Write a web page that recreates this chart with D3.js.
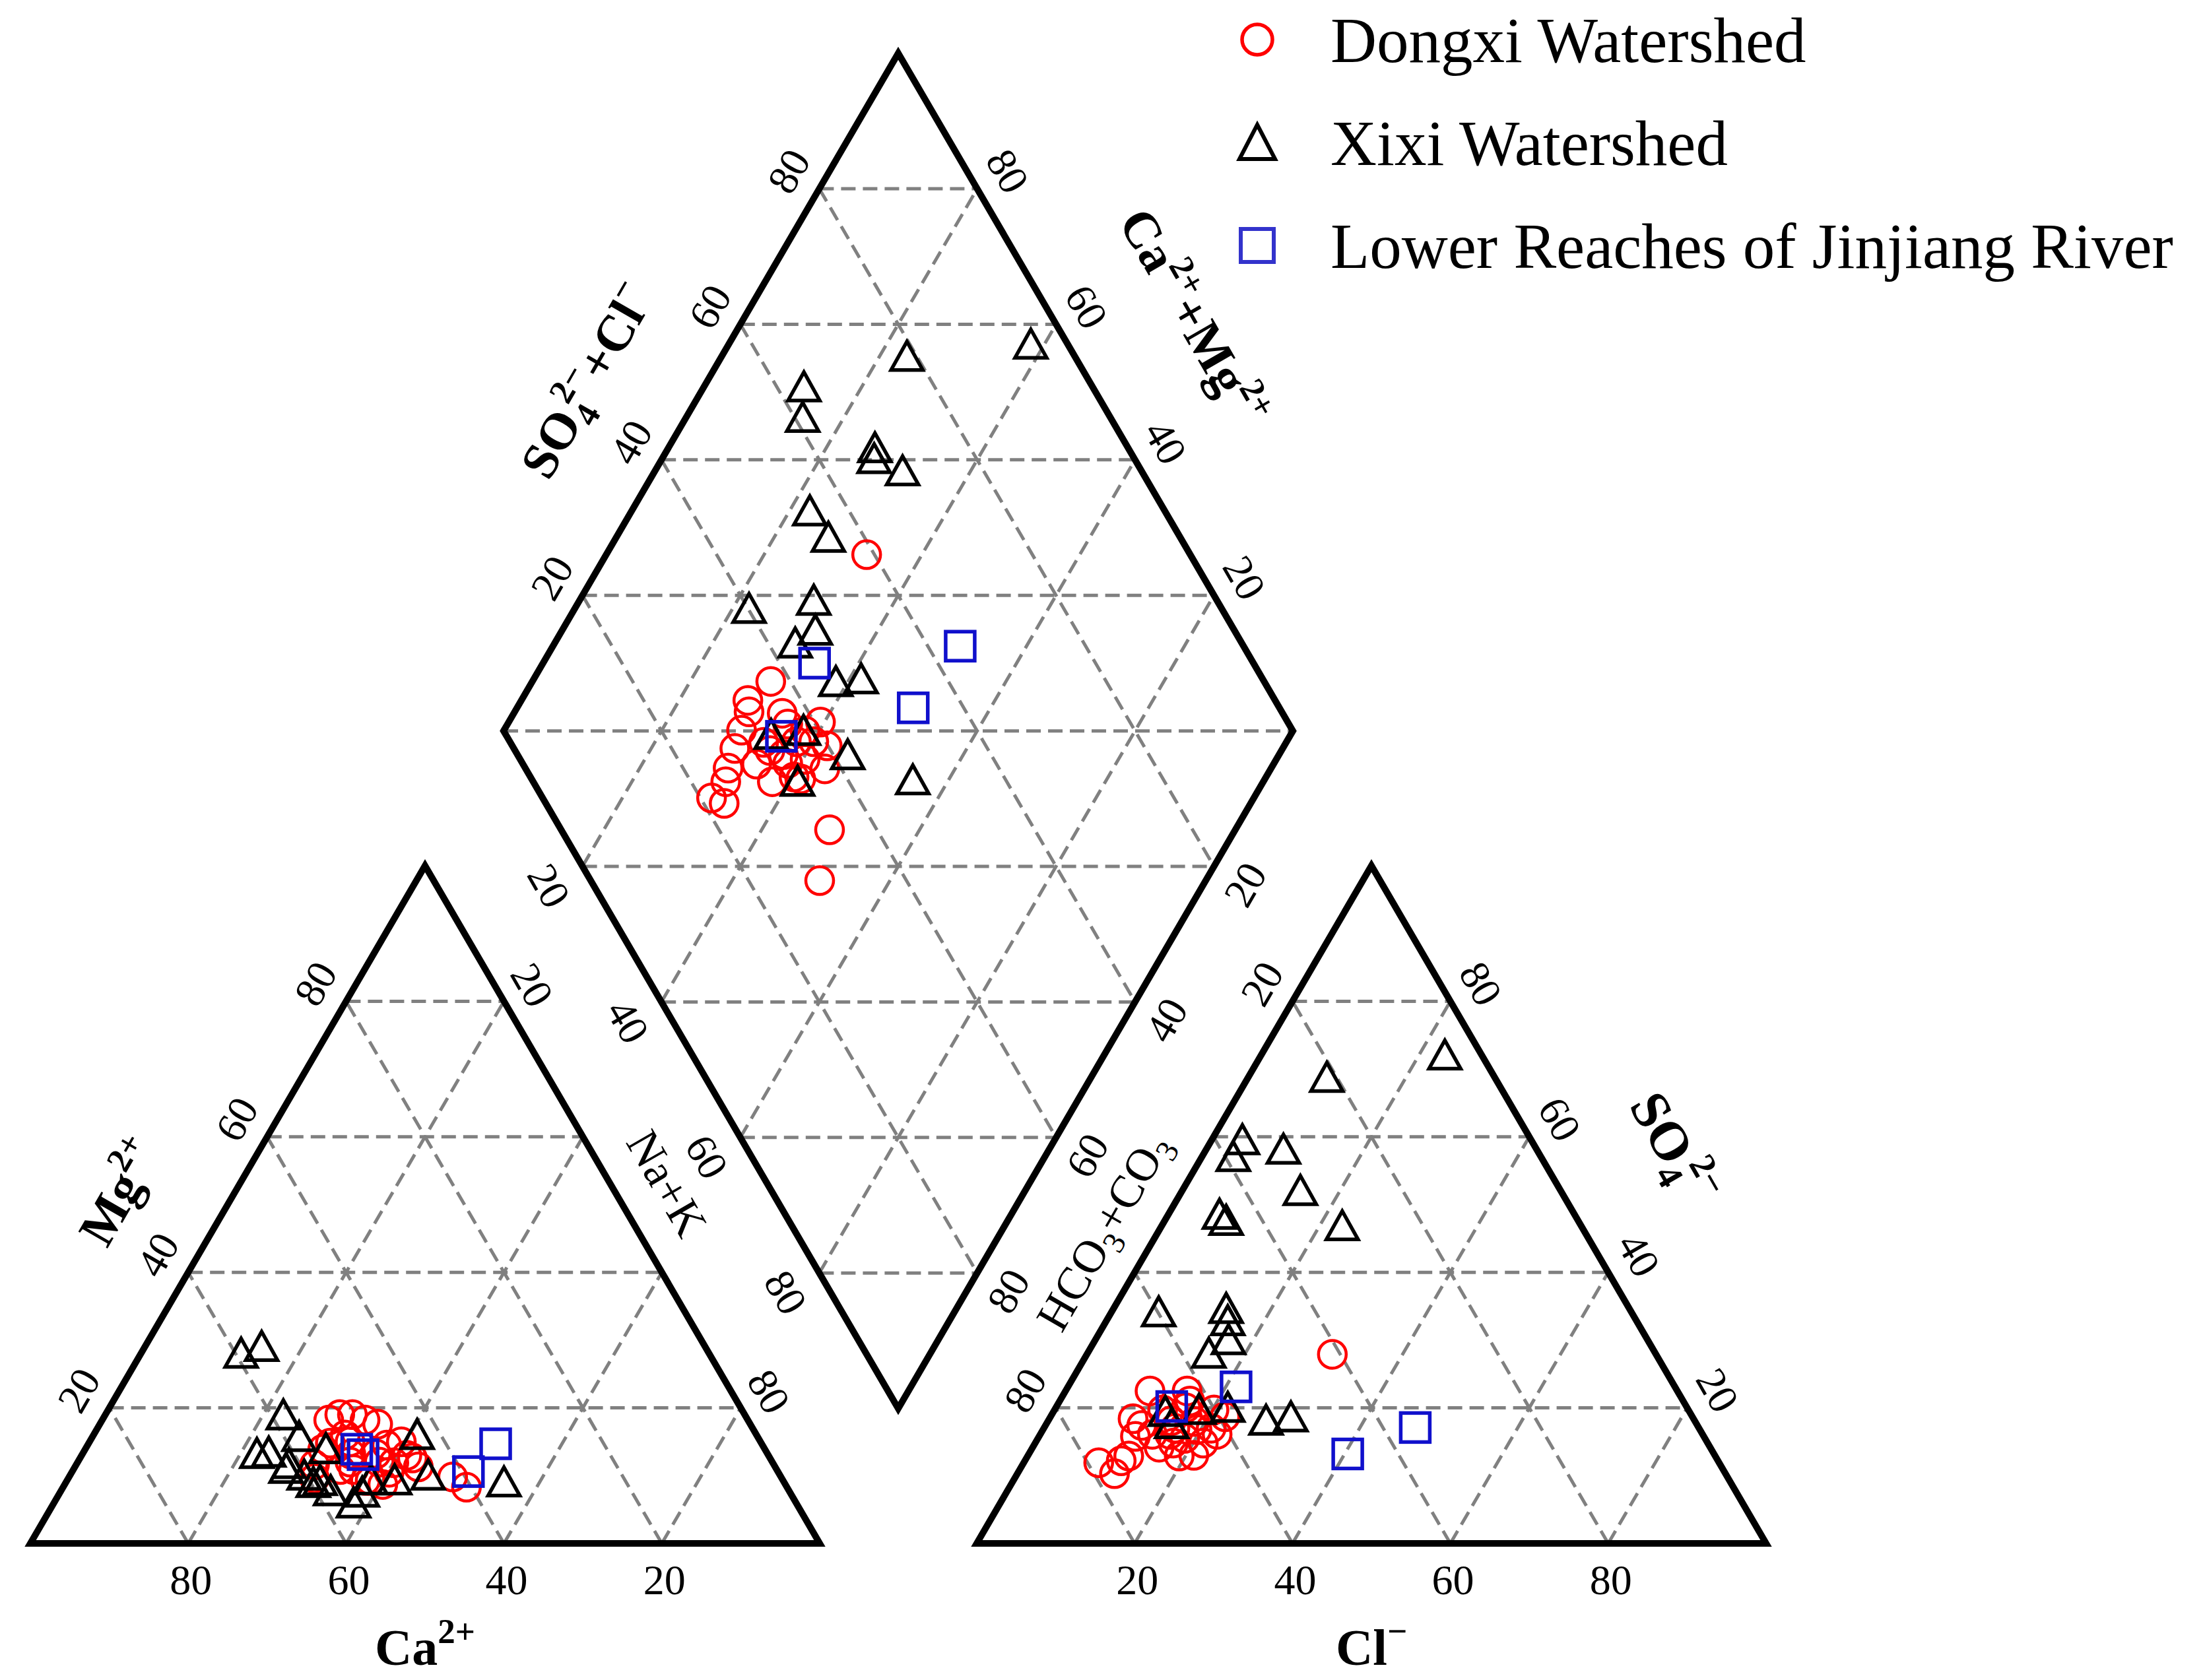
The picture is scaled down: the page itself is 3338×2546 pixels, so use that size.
<!DOCTYPE html>
<html>
<head>
<meta charset="utf-8">
<script src="https://cdn.jsdelivr.net/npm/d3@7"></script>
<style>
  html, body { margin: 0; background: #fff; }
</style>
</head>
<body>
<svg id="chart" width="3338" height="2546"></svg>
<script>
// Piper diagram: % meq/L of cations (Mg, Na+K; Ca = rest) and anions (SO4, Cl; HCO3+CO3 = rest)

// Dongxi Watershed (red circles)
const dongxiMg  = [11.6, 18.2, 19.0, 13.2, 15.0, 13.9, 10.9, 12.0, 14.8, 17.6, 14.5, 11.9, 12.6, 9.6, 12.0,
                   9.3, 8.7, 11.3, 16.0, 9.3, 10.5, 19.0, 18.2, 13.2, 10.9, 13.0, 9.8, 8.3, 15.0];
const dongxiNaK = [30.2, 28.7, 29.7, 34.0, 39.5, 30.1, 35.5, 38.2, 30.6, 35.2, 37.9, 40.1, 42.1, 31.2, 34.5,
                   38.4, 40.3, 43.5, 31.9, 37.8, 40.2, 31.3, 33.3, 37.2, 33.8, 41.2, 48.6, 51.1, 33.0];
const dongxiSO4 = [21.0, 22.5, 16.1, 18.0, 18.7, 14.2, 20.0, 17.0, 15.8, 14.8, 16.8, 16.1, 19.7, 12.9, 17.4,
                   17.0, 14.8, 22.5, 12.2, 16.1, 19.7, 11.9, 10.3, 18.1, 12.9, 15.5, 13.0, 18.4, 27.9];
const dongxiCl  = [16.5, 10.7, 16.4, 18.6, 22.1, 16.0, 16.5, 21.2, 12.2, 17.5, 19.5, 22.4, 20.2, 12.8, 12.2,
                   16.6, 21.3, 15.4, 12.2, 14.2, 13.7, 9.5, 12.3, 15.6, 19.2, 18.6, 21.0, 10.6, 31.1];

// Xixi Watershed (black triangles)
const xixiMg  = [7.5, 13.4, 28.0, 29.0, 15.7, 11.7, 8.9, 18.9, 11.0, 10.0, 13.2, 9.2, 13.9, 9.3, 9.3,
                 7.7, 5.9, 10.0, 16.0, 9.0];
const xixiNaK = [38.3, 23.5, 12.7, 14.8, 26.2, 26.9, 31.4, 22.6, 26.9, 29.7, 22.1, 32.1, 30.5, 38.5, 41.5,
                 34.2, 38.0, 45.4, 41.0, 55.5];
const xixiSO4 = [72.0, 68.7, 59.5, 57.0, 58.1, 52.0, 46.8, 48.5, 47.6, 34.6, 34.1, 30.0, 28.0, 18.1, 18.6,
                 19.4, 19.7, 20.0, 17.6, 32.8];
const xixiCl  = [23.3, 10.0, 3.9, 4.0, 9.8, 15.0, 22.9, 6.5, 7.8, 14.3, 6.0, 16.9, 15.4, 27.6, 30.5,
                 14.2, 18.3, 21.8, 15.9, 15.4];

// Lower Reaches of Jinjiang River (blue squares)
const lowerMg  = [13.9, 14.7, 10.6, 13.1];
const lowerNaK = [34.4, 51.6, 50.2, 35.6];
const lowerSO4 = [23.1, 17.1, 13.2, 20.2];
const lowerCl  = [21.3, 47.0, 40.4, 14.6];

const tickVals = [20, 40, 60, 80];
const legendNames = ['Dongxi Watershed', 'Xixi Watershed', 'Lower Reaches of Jinjiang River'];

// ---- layout ----
const side   = 1196;   // triangle side (px)
const hgt    = 1027;   // triangle height (px)
const baseY  = 2339;
const catX0  = 46;     // cation triangle, Ca corner
const anX0   = 1480;   // anion triangle, HCO3 corner
const gap    = anX0 - (catX0 + side);
const dmX0   = catX0 + side + gap / 2 - side / 2;
const dmBot  = baseY - hgt * gap / side;

const serif = '"Liberation Serif", "Times New Roman", serif';
const gridColor = '#808080';
const red = '#ff0000', blue = '#1010cc';

const svg = d3.select('#chart');

const catX = d3.scaleLinear().domain([0, 100]).range([catX0, catX0 + side]);
const anX  = d3.scaleLinear().domain([0, 100]).range([anX0, anX0 + side]);
const triY = d3.scaleLinear().domain([0, 100]).range([baseY, baseY - hgt]);
const dmX  = d3.scaleLinear().domain([0, 100]).range([dmX0, dmX0 + side]);
const dmY  = d3.scaleLinear().domain([-100, 100]).range([dmBot, dmBot - 2 * hgt]);

function catPt(mg, nak) { return [catX(nak + mg / 2), triY(mg)]; }
function anPt(so4, cl)  { return [anX(cl + so4 / 2), triY(so4)]; }
function dmPt(nak, sc)  { return [dmX((nak + sc) / 2), dmY(sc - nak)]; }

// ---- grid ----
const gridG = svg.append('g')
  .attr('fill', 'none')
  .attr('stroke', gridColor)
  .attr('stroke-width', 5)
  .attr('stroke-dasharray', '22,11');

function gridLine(p, q) {
  gridG.append('line')
    .attr('x1', p[0]).attr('y1', p[1])
    .attr('x2', q[0]).attr('y2', q[1]);
}

tickVals.forEach(k => {
  gridLine(catPt(k, 0), catPt(k, 100 - k));
  gridLine(catPt(0, k), catPt(100 - k, k));
  gridLine(catPt(0, 100 - k), catPt(100 - k, 0));

  gridLine(anPt(k, 0), anPt(k, 100 - k));
  gridLine(anPt(0, k), anPt(100 - k, k));
  gridLine(anPt(0, 100 - k), anPt(100 - k, 0));

  gridLine(dmPt(k, 0), dmPt(k, 100));
  gridLine(dmPt(0, k), dmPt(100, k));
});
[-80, -60, -40, -20, 0, 20, 40, 60, 80].forEach(v => {
  if (v >= 0) gridLine(dmPt(0, v), dmPt(100 - v, 100));
  else gridLine(dmPt(-v, 0), dmPt(100, 100 + v));
});

// ---- frames ----
const frame = svg.append('g')
  .attr('fill', 'none')
  .attr('stroke', '#000')
  .attr('stroke-width', 10)
  .attr('stroke-linejoin', 'miter');
const closed = d3.line();
frame.append('path').attr('d', closed([catPt(0, 0), catPt(100, 0), catPt(0, 100)]) + 'Z');
frame.append('path').attr('d', closed([anPt(0, 0), anPt(100, 0), anPt(0, 100)]) + 'Z');
frame.append('path').attr('d', closed([dmPt(0, 0), dmPt(0, 100), dmPt(100, 100), dmPt(100, 0)]) + 'Z');

// ---- tick labels ----
const labG = svg.append('g')
  .attr('font-family', serif)
  .attr('fill', '#000');

const NL = [-0.866, -0.5];   // outward normal, edges rising to the right (left side)
const NR = [0.866, -0.5];    // outward normal, edges falling to the right (right side)
const NDL = [-0.866, 0.5];   // diamond lower-left
const NDR = [0.866, 0.5];    // diamond lower-right

function rotLabel(p, nrm, d, rot, txt, size) {
  const x = p[0] + nrm[0] * d, y = p[1] + nrm[1] * d;
  labG.append('text')
    .attr('transform', `translate(${x},${y}) rotate(${rot})`)
    .attr('text-anchor', 'middle')
    .attr('dy', '0.35em')
    .attr('font-size', size)
    .text(txt);
}

const tickSize = 64, td = 54;

tickVals.forEach(k => {
  // bottom axes
  labG.append('text')
    .attr('x', catX(100 - k) + 4).attr('y', 2416)
    .attr('text-anchor', 'middle').attr('font-size', tickSize).text(k);
  labG.append('text')
    .attr('x', anX(k) + 4).attr('y', 2416)
    .attr('text-anchor', 'middle').attr('font-size', tickSize).text(k);

  rotLabel(catPt(k, 0), NL, td, -60, k, tickSize);          // Mg
  rotLabel(anPt(k, 100 - k), NR, td, 60, k, tickSize);      // SO4
  rotLabel(dmPt(0, k), NL, td, -60, k, tickSize);           // SO4+Cl
  rotLabel(dmPt(100 - k, 100), NR, td, 60, k, tickSize);    // Ca+Mg
  rotLabel(dmPt(k, 0), NDL, td + 4, 60, k, tickSize);       // Na+K (diamond)
  rotLabel(dmPt(100, 100 - k), NDR, td, -60, k, tickSize);  // HCO3+CO3 (diamond)
});
[20, 80].forEach(k => {
  rotLabel(catPt(100 - k, k), NR, td - 4, 60, k, tickSize);  // Na+K
  rotLabel(anPt(100 - k, 0), NL, td, -60, k, tickSize);      // HCO3+CO3
});

// ---- axis titles ----
function richLabel(p, nrm, d, rot, parts, size, bold) {
  const x = p[0] + nrm[0] * d, y = p[1] + nrm[1] * d;
  const t = labG.append('text')
    .attr('transform', `translate(${x},${y}) rotate(${rot})`)
    .attr('text-anchor', 'middle')
    .attr('font-size', size)
    .attr('font-weight', bold ? 'bold' : 'normal');
  let shift = 0;
  parts.forEach(pt => {
    const target = pt.sup ? -0.42 * size : pt.sub ? 0.22 * size : 0;
    const s = t.append('tspan').attr('dy', target - shift).text(pt.t);
    if (pt.sup || pt.sub) s.attr('font-size', size * 0.68);
    if (pt.dx) s.attr('dx', pt.dx);
    shift = target;
  });
  t.attr('y', size * 0.33);
}

const titleSize = 78;
richLabel([catX(50), 2497], [0, 0], 0, 0, [{ t: 'Ca' }, { t: '2+', sup: true }], titleSize, true);
richLabel([anX(50), 2497], [0, 0], 0, 0, [{ t: 'Cl' }, { t: '\u2212', sup: true }], titleSize, true);
richLabel(catPt(44.5, 0), NL, 150, -60, [{ t: 'Mg' }, { t: '2+', sup: true }], titleSize, true);
richLabel(dmPt(0, 44), NL, 157, -60,
  [{ t: 'SO' }, { t: '4', sub: true }, { t: '2\u2212', sup: true, dx: -16 }, { t: '+Cl' }, { t: '\u2212', sup: true }],
  titleSize, true);
richLabel(dmPt(48, 100), NR, 184, 60,
  [{ t: 'Ca' }, { t: '2+', sup: true }, { t: '+Mg' }, { t: '2+', sup: true }], titleSize, true);
richLabel(anPt(49.5, 50.5), NR, 180, 60,
  [{ t: 'SO' }, { t: '4', sub: true }, { t: '2\u2212', sup: true, dx: -16 }], titleSize + 4, true);
richLabel(catPt(49.5, 50.5), NR, 74, 60, [{ t: 'Na+K' }], 70, false);
richLabel(anPt(42.5, 0), NL, 72, -60,
  [{ t: 'HCO' }, { t: '3', sub: true }, { t: '+CO' }, { t: '3', sub: true }], 70, false);

// ---- symbols ----
const triPath = 'M0,-23L24,20L-24,20Z';

function drawGroup(mg, nak, so4, cl, kind) {
  const g = svg.append('g').attr('fill', 'none');
  const pts = [];
  mg.forEach((m, i) => {
    const sc = so4[i] + cl[i];
    pts.push(catPt(m, nak[i]));
    pts.push(anPt(so4[i], cl[i]));
    pts.push(dmPt(nak[i], sc));
  });
  if (kind === 'circle') {
    g.attr('stroke', red).attr('stroke-width', 4.5);
    g.selectAll('circle').data(pts).join('circle')
      .attr('cx', d => d[0]).attr('cy', d => d[1]).attr('r', 21);
  } else if (kind === 'triangle') {
    g.attr('stroke', '#000').attr('stroke-width', 5.5);
    g.selectAll('path').data(pts).join('path')
      .attr('d', triPath)
      .attr('transform', d => `translate(${d[0]},${d[1]})`);
  } else {
    g.attr('stroke', blue).attr('stroke-width', 5.5);
    g.selectAll('rect').data(pts).join('rect')
      .attr('x', d => d[0] - 22).attr('y', d => d[1] - 22)
      .attr('width', 44).attr('height', 44);
  }
}

drawGroup(dongxiMg, dongxiNaK, dongxiSO4, dongxiCl, 'circle');
drawGroup(xixiMg, xixiNaK, xixiSO4, xixiCl, 'triangle');
drawGroup(lowerMg, lowerNaK, lowerSO4, lowerCl, 'square');

// ---- legend ----
const leg = svg.append('g').attr('font-family', serif);
const legY = [60, 216, 372];
leg.append('circle').attr('cx', 1905).attr('cy', legY[0]).attr('r', 23)
  .attr('fill', 'none').attr('stroke', red).attr('stroke-width', 5.5);
leg.append('path').attr('d', 'M0,-27L27,25L-27,25Z')
  .attr('transform', `translate(1905,${legY[1]})`)
  .attr('fill', 'none').attr('stroke', '#000').attr('stroke-width', 6);
leg.append('rect').attr('x', 1880).attr('y', legY[2] - 25).attr('width', 50).attr('height', 50)
  .attr('fill', 'none').attr('stroke', '#3333cc').attr('stroke-width', 6);
legendNames.forEach((name, i) => {
  leg.append('text')
    .attr('x', 2016).attr('y', legY[i] + 34)
    .attr('font-size', 97)
    .text(name);
});
</script>
</body>
</html>
